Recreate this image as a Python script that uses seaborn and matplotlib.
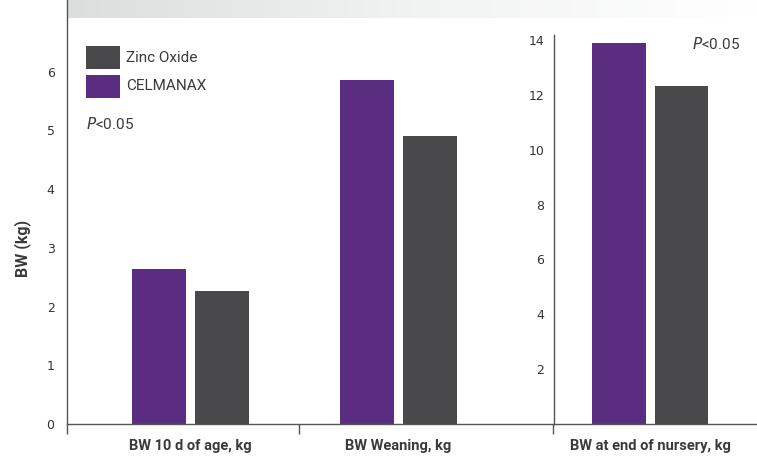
import numpy as np
import pandas as pd
import matplotlib
matplotlib.use("Agg")
import matplotlib.pyplot as plt
import seaborn as sns

# ---- data ----
categories = ["BW 10 d of age, kg", "BW Weaning, kg", "BW at end of nursery, kg"]
treatments = ["CELMANAX", "Zinc Oxide"]
celmanax = [2.64, 5.86, 13.89]
zinc_oxide = [2.27, 4.91, 12.33]
left_ticks = [0, 1, 2, 3, 4, 5, 6]
right_ticks = [2, 4, 6, 8, 10, 12, 14]
p_text = "<0.05"

colors = {"CELMANAX": "#5b2d80", "Zinc Oxide": "#49494b"}

df = pd.DataFrame({
    "category": categories * 2,
    "treatment": ["CELMANAX"] * 3 + ["Zinc Oxide"] * 3,
    "bw": celmanax + zinc_oxide,
})
df_left = df[df["category"].isin(categories[:2])]
df_right = df[df["category"] == categories[2]]

sns.set_theme(style="white")
plt.rcParams["font.family"] = ["DejaVu Sans"]

W, H = 757, 458
fig = plt.figure(figsize=(W / 100, H / 100), dpi=100)

def px_axes(x0, y0, x1, y1):
    return fig.add_axes([x0 / W, 1 - y1 / H, (x1 - x0) / W, (y1 - y0) / H])

# gradient band at top
band = px_axes(67, 0, 757, 18)
grad = np.linspace(0, 1, 256)[None, :]
band.imshow(grad, aspect="auto", cmap=matplotlib.colors.LinearSegmentedColormap.from_list(
    "g", ["#dcdddd", "#f1f2f2", "#ffffff"]), extent=[0, 1, 0, 1])
band.set_axis_off()

spine_col = "#555555"
tick_col = "#333333"
txt_col = "#3a3a3a"
cat_font = dict(family=["Roboto", "DejaVu Sans"], weight="bold", size=10.5, color=txt_col)

# left axes: first two categories
ax = px_axes(67, 0, 554, 424)
sns.barplot(data=df_left, x="category", y="bw", hue="treatment",
            order=categories[:2], hue_order=treatments, palette=colors,
            width=0.605, gap=0.143, saturation=1, legend=False, linewidth=0, ax=ax)
ax.set_xlim(-0.594, 1.748)
ax.set_ylim(0, 7.22)
ax.set_yticks(left_ticks)
ax.set_yticklabels([str(t) for t in left_ticks], fontsize=9, color=tick_col)
ax.tick_params(axis="y", length=0, pad=9)
ax.set_xticks([0, 1])
ax.set_xticklabels(categories[:2], **cat_font)
ax.tick_params(axis="x", which="major", length=0, pad=11)
ax.set_xticks([-0.594, 0.52, 1.745], minor=True)
ax.tick_params(axis="x", which="minor", bottom=True, length=7, width=1,
               color=spine_col, direction="out")
ax.set_xlabel("")
ax.set_ylabel("BW (kg)", family=["Roboto", "DejaVu Sans"], weight="bold", size=11.5,
              color=txt_col)
ax.yaxis.set_label_coords(-0.074, 0.415)
for s in ["top", "right"]:
    ax.spines[s].set_visible(False)
for s in ["left", "bottom"]:
    ax.spines[s].set_color(spine_col)
    ax.spines[s].set_linewidth(1)
ax.patch.set_alpha(0)

# right axes: third category with its own scale
ax2 = px_axes(554, 35, 757, 424)
sns.barplot(data=df_right, x="category", y="bw", hue="treatment",
            order=categories[2:], hue_order=treatments, palette=colors,
            width=0.605, gap=0.143, saturation=1, legend=False, linewidth=0, ax=ax2)
ax2.set_xlim(-0.4615, 0.514)
ax2.set_ylim(0, 14.18)
ax2.set_yticks(right_ticks)
ax2.set_yticklabels([str(t) for t in right_ticks], fontsize=9, color=tick_col)
ax2.tick_params(axis="y", length=0, pad=7)
ax2.set_xticks([0])
ax2.set_xticklabels(categories[2:], **cat_font)
ax2.tick_params(axis="x", length=0, pad=11)
ax2.set_xlabel("")
ax2.set_ylabel("")
for s in ["top", "right"]:
    ax2.spines[s].set_visible(False)
for s in ["left", "bottom"]:
    ax2.spines[s].set_color(spine_col)
    ax2.spines[s].set_linewidth(1)
ax2.patch.set_alpha(0)

# legend (manual squares + labels)
leg_font = dict(family=["Roboto", "DejaVu Sans"], size=11, color=txt_col)
for i, name in enumerate(["Zinc Oxide", "CELMANAX"]):
    y0 = 46 + i * 29
    fig.patches.append(matplotlib.patches.Rectangle(
        (86 / W, 1 - (y0 + 23) / H), 34 / W, 23 / H, transform=fig.transFigure,
        facecolor=colors[name], edgecolor="none"))
    fig.text(126 / W, 1 - (y0 + 11.5) / H, name, va="center", ha="left", **leg_font)

# P value annotations
for (xp, yp) in [(86, 124), (692, 44)]:
    fig.text(xp / W, 1 - yp / H, r"$\mathit{P}$" + p_text, va="center", ha="left",
             family=["Roboto", "DejaVu Sans"], size=11, color=txt_col)

fig.savefig("out.png", dpi=100)
